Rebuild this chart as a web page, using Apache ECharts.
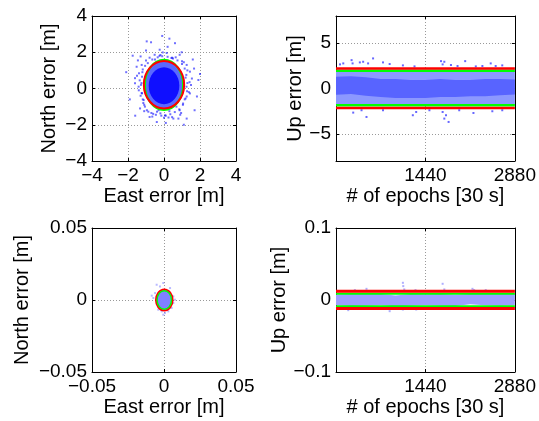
<!DOCTYPE html>
<html><head><meta charset="utf-8">
<script src="https://cdn.jsdelivr.net/npm/echarts@6/dist/echarts.min.js"></script>
<style>html,body{margin:0;padding:0;background:#fff}#c{width:539px;height:421px}</style>
</head><body><div id="c"></div>
<script>
// ---------- Data ----------
// Top-left: horizontal scatter, metres (points outside the dense core)
const tlEast  = [-0.96,-0.72,0.61,-0.07,0.15,0.98,0.87,-1.3,-1.24,-1.52,-1.74,-1.61,-1.39,1.26,1.44,1.67,1.91,1.5,1.44,1.26,1.83,-1.33,-1.06,-0.87,-0.8,-0.39,-0.2,0.06,0.52,0.8,1.26,0.87,0.69,-0.52,-0.24,0.41,-1.61,1.06,-1.13,-1.22,-1.41,-1.2,-1.25,-1.3,-1.15,1.2,1.25,1.15,1.3,0.5,-0.5,-0.3,0.3,1.0,-1.0,-0.6,0.95,0.2,-0.1,0.3,-1.45,1.6,2.0,-2.1,-1.9,1.7,-1.6,0.1,-0.4,1.1,-1.0,
  -1.18,-1.22,-1.28,-1.24,-1.18,-1.1,-0.95,-0.7,-0.45,-0.15,0.1,0.35,0.6,0.85,1.05,1.2,1.28,1.3,1.24,1.15,1.0,0.75,0.45,0.2,-0.1,-0.35,-0.65,-0.9,-1.05,-1.35,-1.4,1.42,1.38,0.0,-0.2,0.45,-0.8,0.9,-1.5,1.55,0.65,-0.65,0.25,-0.25,1.1,-1.1];
const tlNorth = [2.6,2.55,2.5,1.99,1.96,2.0,1.86,1.77,1.3,1.2,1.81,0.57,0.84,1.3,0.93,1.1,0.47,0.19,-0.27,-0.44,-0.44,-1.1,-1.0,-1.28,-1.57,-1.28,-1.37,-1.48,-1.66,-1.66,-1.66,-1.2,-1.0,1.86,2.14,1.68,0.29,-0.83,-0.64,-0.27,0.1,0.9,0.3,-0.4,-0.8,0.6,0.1,-0.6,1.0,1.65,1.6,-1.2,-1.25,1.5,1.55,-1.4,-1.35,2.3,2.9,2.75,1.55,1.6,0.8,0.9,-0.6,-1.2,-1.5,-1.9,-1.85,-2.0,2.1,
  1.05,0.65,0.2,-0.25,-0.6,-0.9,-1.2,-1.35,-1.45,-1.5,-1.5,-1.42,-1.3,-1.15,-0.9,-0.55,-0.15,0.3,0.75,1.1,1.35,1.55,1.7,1.75,1.78,1.72,1.6,1.4,1.25,0.45,-0.1,0.35,-0.2,-1.62,1.85,-1.58,1.7,-1.45,0.7,0.55,1.72,-1.55,-1.6,1.8,1.45,-1.25];
// Dense core of the cloud and error ellipses: [centerE, centerN, semiE, semiN]
const tlRing  = [0, 0.2, 1.1, 1.3];
const tlCore  = [0, 0.15, 0.85, 1.02];
const tlGreen = [0, 0.2, 1.06, 1.38];
const tlRed   = [0, 0.21, 1.12, 1.31];

// Top-right: vertical error vs epoch
const trEpochs   = [0,240,480,720,960,1200,1440,1680,1920,2160,2400,2640,2880];
const trOuterUp  = [1.93,1.94,1.93,1.92,1.93,1.9,1.93,1.94,1.93,1.93,1.9,1.93,1.92];
const trOuterLo  = [-1.8,-1.82,-1.84,-1.84,-1.84,-1.84,-1.84,-1.84,-1.84,-1.82,-1.8,-1.82,-1.8];
const trInnerUp  = [1.3,1.35,1.25,1.05,1.05,0.95,0.95,1.05,0.95,0.95,1.05,1.05,1.0];
const trInnerLo  = [-0.7,-0.6,-0.8,-0.95,-1.05,-1.05,-1.05,-0.95,-0.95,-0.85,-0.85,-0.75,-0.65];
const trOutEpoch = [64,117,251,267,384,437,517,597,757,864,1077,1264,1691,1744,1717,1851,1957,2080,2251,2357,2491,2571,2677,277,491,411,757,1237,1291,1504,1744,1771,1813,1717,1984,2213,2517,2677];
const trOutUp    = [2.66,2.77,3.13,2.77,2.88,2.95,2.77,3.32,2.88,2.7,2.55,2.44,3.02,2.95,2.66,2.59,2.48,3.02,2.44,2.48,2.77,2.48,2.55,-2.66,-3.14,-2.4,-2.4,-2.95,-2.59,-2.4,-3.32,-2.95,-3.69,-2.59,-2.4,-2.7,-2.51,-2.4];
const trGreen = [1.95, -1.85];
const trRed   = [2.2, -2.15];

// Bottom-left: horizontal scatter (second solution), metres
const blEast  = [-0.0051,-0.0028,-0.0005,-0.0085,-0.0074,-0.0062,0.0076,0.0065,0.0065,-0.0016,0.0007,0.003,-0.0005,-0.004,0.0042,0.0053];
const blNorth = [0.0106,0.0094,0.0118,0.003,0.0014,0.0048,0.0002,-0.0021,0.0025,-0.0079,-0.009,-0.0079,-0.0102,-0.0067,0.0083,-0.0055];
const blCore  = [0.0002, 0, 0.0052, 0.0067];
const blGreen = [0.0002, 0, 0.005, 0.0065];
const blRed   = [0.0002, 0, 0.0056, 0.0072];

// Bottom-right: vertical error vs epoch
const brEpochs = [0,240,480,720,960,1200,1440,1680,1920,2160,2400,2640,2880];
const brUp     = [0.0078,0.0085,0.0085,0.0082,0.0062,0.0082,0.008,0.0085,0.0072,0.0085,0.0086,0.0085,0.0082];
const brLo     = [-0.0072,-0.0084,-0.008,-0.0072,-0.0086,-0.008,-0.0072,-0.008,-0.0084,-0.006,-0.0072,-0.008,-0.0072];
const brOutEpoch = [1077,1083,1099,491,304,1280,1717,1744,2197,2224,2411,197,864,1077,1291,2784];
const brOutUp    = [0.0239,0.0193,0.0147,0.0155,0.0137,0.0137,0.0225,0.0147,0.0155,0.0137,0.0137,-0.0141,-0.0155,-0.0132,-0.0132,-0.0095];
const brGreen = [0.0086, -0.0086];
const brRed   = [0.012, -0.0118];

// Axis tick labels
const trUpTicks = [-5, 0, 5];
const epochMax = 2880;

// ---------- Chart ----------
const FONT = 'Liberation Sans, Arial, Helvetica, sans-serif';
const fmt = v => (v === 0 ? '0' : String(+v.toFixed(4)).replace('-', '\u2212'));

const grids = [
  {left: 92, top: 16, width: 144, height: 145},
  {left: 336, top: 16, width: 180, height: 145},
  {left: 92, top: 228, width: 144, height: 144},
  {left: 336, top: 228, width: 180, height: 144}
];

const xAxes = [], yAxes = [];
function addAxes(g, xc, yc) {
  const common = {
    gridIndex: g, type: 'value',
    axisLine: {show: true, onZero: false, lineStyle: {color: '#000', width: 1}},
    axisTick: {show: true, inside: true, length: 3, lineStyle: {color: '#000'}},
    splitLine: {show: true, lineStyle: {color: '#999', type: [1, 2], width: 1}},
    axisLabel: {color: '#000', fontSize: 19, fontFamily: FONT, margin: 5},
    nameTextStyle: {color: '#000', fontSize: 20, fontFamily: FONT},
    nameLocation: 'middle'
  };
  const xb = Object.assign({}, common, xc.base, {position: 'bottom'});
  xb.axisLabel = Object.assign({}, common.axisLabel, xc.label || {});
  if (xc.tick) xb.axisTick = Object.assign({}, common.axisTick, xc.tick);
  const xt = Object.assign({}, common, xc.base, {position: 'top', name: '', axisLabel: {show: false}, splitLine: {show: false}});
  if (xc.tick) xt.axisTick = Object.assign({}, common.axisTick, xc.tick);
  const yl = Object.assign({}, common, yc.base, {position: 'left'});
  yl.axisLabel = Object.assign({}, common.axisLabel, yc.label || {});
  if (yc.tick) yl.axisTick = Object.assign({}, common.axisTick, yc.tick);
  const yr = Object.assign({}, common, yc.base, {position: 'right', name: '', axisLabel: {show: false}, splitLine: {show: false}});
  if (yc.tick) yr.axisTick = Object.assign({}, common.axisTick, yc.tick);
  xAxes.push(xb, xt); yAxes.push(yl, yr);
}

addAxes(0,
  {base: {min: -4, max: 4, interval: 2, name: 'East error [m]', nameGap: 25}, label: {formatter: fmt}},
  {base: {min: -4, max: 4, interval: 2, name: 'North error [m]', nameGap: 33}, label: {formatter: fmt}});
addAxes(1,
  {base: {min: 0, max: epochMax, interval: 1440, name: '# of epochs [30 s]', nameGap: 25}, label: {formatter: v => v === 0 ? '' : String(v)}},
  {base: {min: -8, max: 8, name: 'Up error [m]', nameGap: 27}, label: {formatter: fmt, customValues: trUpTicks}, tick: {customValues: trUpTicks}});
addAxes(2,
  {base: {min: -0.05, max: 0.05, interval: 0.05, name: 'East error [m]', nameGap: 25}, label: {formatter: fmt}},
  {base: {min: -0.05, max: 0.05, interval: 0.05, name: 'North error [m]', nameGap: 60}, label: {formatter: fmt}});
addAxes(3,
  {base: {min: 0, max: epochMax, interval: 1440, name: '# of epochs [30 s]', nameGap: 25}, label: {formatter: v => v === 0 ? '' : String(v)}},
  {base: {min: -0.1, max: 0.1, interval: 0.1, name: 'Up error [m]', nameGap: 30}, label: {formatter: fmt}});

function ellipse(g, e, stroke, fill, lw, z) {
  return {
    type: 'custom', xAxisIndex: 2 * g, yAxisIndex: 2 * g, z: z, silent: true, animation: false,
    dimensions: ['x', 'y', 'rx', 'ry'], encode: {x: 0, y: 1},
    data: [e],
    renderItem: (p, api) => {
      const c = api.coord([api.value(0), api.value(1)]);
      const s = api.size([api.value(2), api.value(3)]);
      return {type: 'ellipse', shape: {cx: c[0], cy: c[1], rx: s[0], ry: s[1]},
        style: {fill: fill || 'none', stroke: stroke || 'none', lineWidth: lw || 0}};
    }
  };
}
// Band between two envelopes, drawn as one polygon through the axis scales
function band(g, ep, up, lo, fill, z) {
  return {
    type: 'custom', xAxisIndex: 2 * g, yAxisIndex: 2 * g, z: z, silent: true, animation: false,
    dimensions: ['x', 'y'], encode: {x: 0, y: 1},
    data: [[ep[0], 0]],
    renderItem: (p, api) => {
      const pts = [];
      for (let i = 0; i < ep.length; i++) pts.push(api.coord([ep[i], up[i]]));
      for (let i = ep.length - 1; i >= 0; i--) pts.push(api.coord([ep[i], lo[i]]));
      return {type: 'polygon', shape: {points: pts}, style: {fill: fill}};
    }
  };
}
function scatter(g, xs, ys, color, size, z) {
  return {type: 'scatter', xAxisIndex: 2 * g, yAxisIndex: 2 * g, z: z, silent: true, animation: false,
    symbol: 'rect', symbolSize: size, itemStyle: {color: color},
    data: xs.map((x, i) => [x, ys[i]])};
}
function hline(g, v, color, w, z) {
  return {type: 'line', xAxisIndex: 2 * g, yAxisIndex: 2 * g, z: z, silent: true, animation: false,
    symbol: 'none', lineStyle: {color: color, width: w}, data: [[0, v], [epochMax, v]]};
}

const series = [
  // top-left
  scatter(0, tlEast, tlNorth, 'rgba(0,0,255,0.7)', 2, 2),
  ellipse(0, tlRing, null, 'rgb(90,105,255)', 0, 2),
  ellipse(0, tlCore, null, 'rgb(15,15,255)', 0, 2),
  ellipse(0, tlGreen, '#00ff00', null, 2, 3),
  ellipse(0, tlRed, '#ff0000', null, 2, 4),
  // top-right
  band(1, trEpochs, trOuterUp, trOuterLo, 'rgb(140,152,255)', 1),
  band(1, trEpochs, trInnerUp, trInnerLo, 'rgb(88,100,255)', 1),
  scatter(1, trOutEpoch, trOutUp, 'rgba(0,0,255,0.75)', 2, 2),
  hline(1, trGreen[0], '#00ff00', 2.5, 3), hline(1, trGreen[1], '#00ff00', 2.5, 3),
  hline(1, trRed[0], '#ff0000', 2.5, 4), hline(1, trRed[1], '#ff0000', 2.5, 4),
  // bottom-left
  scatter(2, blEast, blNorth, 'rgba(110,110,255,0.6)', 2, 2),
  ellipse(2, blRed, '#ff0000', null, 2.5, 3),
  ellipse(2, blCore, null, '#8080ff', 0, 3),
  ellipse(2, blGreen, '#00ff00', null, 1.5, 4),
  // bottom-right
  band(3, brEpochs, brUp, brLo, 'rgb(158,158,255)', 1),
  scatter(3, brOutEpoch, brOutUp, 'rgba(110,110,255,0.7)', 2, 2),
  hline(3, brGreen[0], '#00ff00', 2, 3), hline(3, brGreen[1], '#00ff00', 2, 3),
  hline(3, brRed[0], '#ff0000', 3, 4), hline(3, brRed[1], '#ff0000', 3, 4)
];

const chart = echarts.init(document.getElementById('c'), null, {renderer: 'canvas'});
chart.setOption({
  backgroundColor: '#fff',
  animation: false,
  grid: grids,
  xAxis: xAxes,
  yAxis: yAxes,
  series: series
});
</script></body></html>
